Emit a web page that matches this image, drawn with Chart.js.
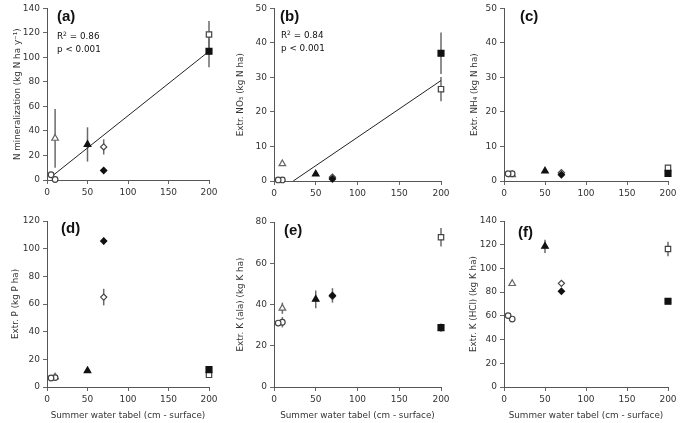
<!DOCTYPE html>
<html><head><meta charset="utf-8">
<script src="https://cdn.jsdelivr.net/npm/chart.js@4"></script>
<style>
html,body{margin:0;padding:0;background:#fff;}
body{width:681px;height:423px;position:relative;overflow:hidden;}
canvas{position:absolute;}
</style></head><body>
<canvas id="pa" width="227" height="205" style="left:0;top:0"></canvas>
<canvas id="pb" width="227" height="205" style="left:227px;top:0"></canvas>
<canvas id="pc" width="227" height="205" style="left:454px;top:0"></canvas>
<canvas id="pd" width="227" height="218" style="left:0;top:205px"></canvas>
<canvas id="pe" width="227" height="218" style="left:227px;top:205px"></canvas>
<canvas id="pf" width="227" height="218" style="left:454px;top:205px"></canvas>
<script>
// Site order: open circle, open circle, open triangle, filled triangle, open diamond, filled diamond, open square, filled square
const depth = [5, 10, 10, 50, 70, 70, 200, 200];
const xTicks = [0, 50, 100, 150, 200];

const nMin = [4.3, 0.4, 34, 29, 27, 7.8, 118.7, 105];
const nMinErr = [0, 0, 24, 14, 6.2, 0, 11, 13];
const nMinFitX = [5, 200];
const nMinFitY = [2.5, 105];

const no3 = [0.3, 0.3, 5, 2, 1.1, 0.6, 26.6, 37];
const no3Err = [0, 0, 0, 0, 0, 0, 3.5, 6];
const no3FitX = [23, 200];
const no3FitY = [0, 29.1];

const nh4 = [2.1, 2.1, 1.8, 2.9, 2.4, 1.8, 3.8, 2.2];
const nh4Err = [0, 0, 0, 0, 0, 0, 0, 0];

const extP = [6.5, 6.8, 7.2, 11.8, 65, 105.5, 8.8, 12.6];
const extPErr = [0, 0, 0, 0, 6, 2.5, 0, 1];

const kAla = [31, 31.4, 38.2, 42.5, 44, 44.4, 72.6, 28.8];
const kAlaErr = [0, 2.5, 2.7, 4.3, 0, 3.5, 4.5, 2];

const kHcl = [60.2, 57.3, 87.2, 118.6, 87.4, 80.7, 116.4, 72.3];
const kHclErr = [0, 0, 0, 5.5, 0, 0, 6.2, 2];

const markerStyles = [
  {pointStyle:'circle', r:2.8, bg:'#fff', bc:'#444', order:1},
  {pointStyle:'circle', r:2.8, bg:'#fff', bc:'#444', order:1},
  {pointStyle:'triangle', r:3.8, bg:'#fff', bc:'#666', order:1},
  {pointStyle:'triangle', r:3.8, bg:'#111', bc:'#111', order:0},
  {pointStyle:'rectRot', r:3.1, bg:'#fff', bc:'#444', order:1},
  {pointStyle:'rectRot', r:3.1, bg:'#111', bc:'#111', order:0},
  {pointStyle:'rect', r:3.8, bg:'#fff', bc:'#444', order:1},
  {pointStyle:'rect', r:4.2, bg:'#111', bc:'#111', order:0}
];

const FONT = "'DejaVu Sans', sans-serif";

const errorBars = {
  id:'errorBars',
  beforeDatasetsDraw(chart){
    const ctx = chart.ctx, ys = chart.scales.y;
    ctx.save();
    ctx.strokeStyle = '#6a6a6a';
    ctx.lineWidth = 1.5;
    chart.data.datasets.forEach((ds, di) => {
      if (!ds.errors) return;
      const meta = chart.getDatasetMeta(di);
      ds.data.forEach((p, i) => {
        const e = ds.errors[i];
        if (!e) return;
        const x = meta.data[i].x;
        ctx.beginPath();
        ctx.moveTo(x, ys.getPixelForValue(p.y - e));
        ctx.lineTo(x, ys.getPixelForValue(p.y + e));
        ctx.stroke();
      });
    });
    ctx.restore();
  }
};

const panelText = {
  id:'panelText',
  afterDraw(chart, args, opts){
    const ctx = chart.ctx;
    ctx.save();
    ctx.textBaseline = 'alphabetic';
    ctx.textAlign = 'left';
    ctx.fillStyle = '#111';
    (opts.items || []).forEach(it => {
      let x = it.x;
      it.parts.forEach(p => {
        ctx.font = p.sup ? it.supFont : it.font;
        ctx.fillText(p.t, x, p.sup ? it.y - it.supRise : it.y);
        x += ctx.measureText(p.t).width;
      });
    });
    ctx.restore();
  }
};

function makePanel(id, values, errs, yMax, yStep, yTitle, layout, items, fit, xTitle){
  const datasets = values.map((v, i) => {
    const m = markerStyles[i];
    return {
      type:'scatter',
      data:[{x:depth[i], y:v}],
      errors:[errs[i]],
      pointStyle:m.pointStyle,
      pointRadius:m.r,
      pointBackgroundColor:m.bg,
      pointBorderColor:m.bc,
      pointBorderWidth:1.2,
      clip:false,
      order:m.order
    };
  });
  if (fit) {
    datasets.push({
      type:'line',
      data: fit[0].map((x, i) => ({x, y: fit[1][i]})),
      borderColor:'#222', borderWidth:1, pointRadius:0, fill:false, order:2, clip:false
    });
  }
  new Chart(document.getElementById(id), {
    data:{datasets},
    options:{
      responsive:false, animation:false, devicePixelRatio:1,
      layout:{padding:{left:0, top:layout.top, right:layout.right, bottom:0}},
      plugins:{legend:{display:false}, tooltip:{enabled:false}, panelText:{items}},
      scales:{
        x:{
          type:'linear', min:0, max:200,
          afterBuildTicks(s){ s.ticks = xTicks.map(v => ({value:v})); },
          afterFit(s){ s.height = layout.xh; },
          grid:{display:true, drawOnChartArea:false, drawTicks:true, tickLength:4, color:'#666'},
          border:{display:true, color:'#555', width:1},
          ticks:{font:{family:FONT, size:9}, color:'#333', padding:3, maxRotation:0},
          title:{display:!!xTitle, text:xTitle || '', font:{family:FONT, size:8.8}, color:'#333', padding:{top:0, bottom:2}}
        },
        y:{
          type:'linear', min:0, max:yMax,
          ticks:{stepSize:yStep, font:{family:FONT, size:9}, color:'#333', padding:3},
          afterFit(s){ s.width = layout.yw; },
          grid:{display:true, drawOnChartArea:false, drawTicks:true, tickLength:4, color:'#666'},
          border:{display:true, color:'#555', width:1},
          title:{display:true, text:yTitle, font:{family:FONT, size:8.8}, color:'#333', padding:{top:layout.tp, bottom:0}}
        }
      }
    },
    plugins:[errorBars, panelText]
  });
}

const labFont = "bold 15px 'Liberation Sans', Arial, sans-serif";
const statFont = "8.8px " + FONT;
const supFont = "6px " + FONT;
function lab(t, x, y){ return {parts:[{t}], x, y, font:labFont}; }
function stat(parts, x, y){ return {parts, x, y, font:statFont, supFont, supRise:3.5}; }

makePanel('pa', nMin, nMinErr, 140, 20, 'N mineralization (kg N ha y\u207B\u00B9)',
  {top:7, right:18, xh:25, yw:47, tp:12},
  [lab('(a)', 57, 20.5),
   stat([{t:'R'},{t:'2', sup:true},{t:' = 0.86'}], 57, 39),
   stat([{t:'p < 0.001'}], 57, 52)],
  [nMinFitX, nMinFitY]);

makePanel('pb', no3, no3Err, 50, 10, 'Extr. NO\u2083 (kg N ha)',
  {top:7, right:13, xh:24, yw:47, tp:8},
  [lab('(b)', 53, 20.5),
   stat([{t:'R'},{t:'2', sup:true},{t:' = 0.84'}], 54, 38),
   stat([{t:'p < 0.001'}], 54, 50.5)],
  [no3FitX, no3FitY]);

makePanel('pc', nh4, nh4Err, 50, 10, 'Extr. NH\u2084 (kg N ha)',
  {top:7, right:13, xh:24, yw:50, tp:15},
  [lab('(c)', 66, 20.5)], null);

makePanel('pd', extP, extPErr, 120, 20, 'Extr. P (kg P ha)',
  {top:16, right:18, xh:36, yw:47, tp:10},
  [lab('(d)', 61, 28)], null, 'Summer water tabel (cm - surface)');

makePanel('pe', kAla, kAlaErr, 80, 20, 'Extr. K (ala) (kg K ha)',
  {top:17, right:13, xh:36, yw:47, tp:8},
  [lab('(e)', 57, 30)], null, 'Summer water tabel (cm - surface)');

makePanel('pf', kHcl, kHclErr, 140, 20, 'Extr. K (HCl) (kg K ha)',
  {top:16, right:13, xh:36, yw:50, tp:14},
  [lab('(f)', 64, 31.5)], null, 'Summer water tabel (cm - surface)');
</script>
</body></html>
